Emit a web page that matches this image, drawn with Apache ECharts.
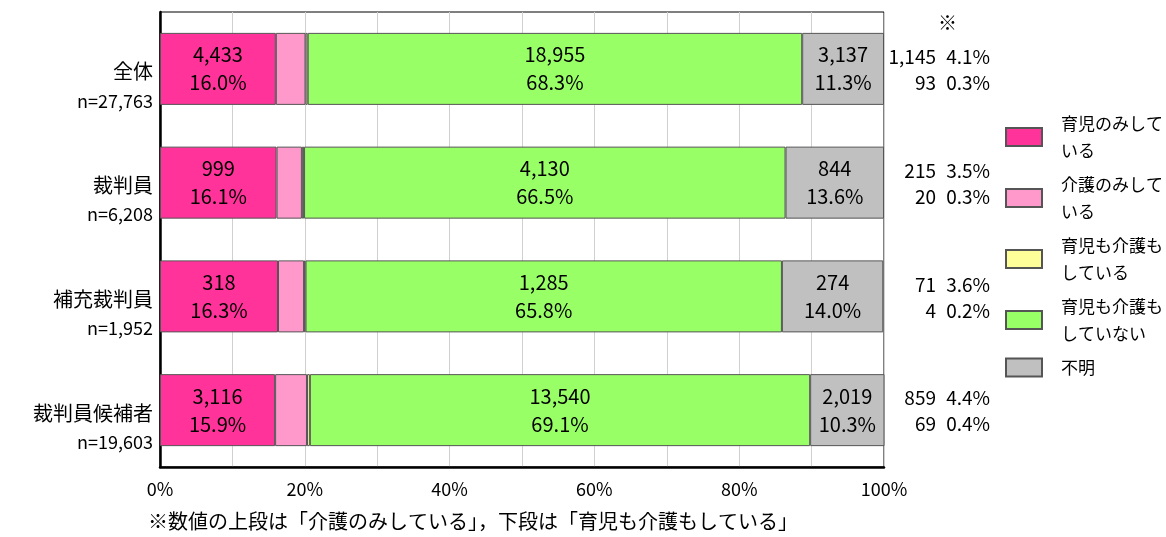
<!DOCTYPE html>
<html><head><meta charset="utf-8">
<script src="https://cdn.jsdelivr.net/npm/echarts@6/dist/echarts.min.js"></script>
<style>html,body{margin:0;padding:0;background:#fff}#c{width:1166px;height:537px}</style>
</head><body><div id="c"></div>
<script>
var categories = ['全体', '裁判員', '補充裁判員', '裁判員候補者'];
var totals = [27763, 6208, 1952, 19603];
var seriesNames = ['育児のみしている', '介護のみしている', '育児も介護もしている', '育児も介護もしていない', '不明'];
var legendLabels = ['育児のみして\nいる', '介護のみして\nいる', '育児も介護も\nしている', '育児も介護も\nしていない', '不明'];
var colors = ['#FF3399', '#FF99CC', '#FFFF99', '#99FF66', '#C0C0C0'];
var countIkujiOnly = [4433, 999, 318, 3116];
var countKaigoOnly = [1145, 215, 71, 859];
var countBoth = [93, 20, 4, 69];
var countNeither = [18955, 4130, 1285, 13540];
var countUnknown = [3137, 844, 274, 2019];
var pctIkujiOnly = [16.0, 16.1, 16.3, 15.9];
var pctKaigoOnly = [4.1, 3.5, 3.6, 4.4];
var pctBoth = [0.3, 0.3, 0.2, 0.4];
var pctNeither = [68.3, 66.5, 65.8, 69.1];
var pctUnknown = [11.3, 13.6, 14.0, 10.3];
var xTicks = [0, 20, 40, 60, 80, 100];
var footNote = '※数値の上段は「介護のみしている」，下段は「育児も介護もしている」';

var counts = [countIkujiOnly, countKaigoOnly, countBoth, countNeither, countUnknown];
var pcts = [pctIkujiOnly, pctKaigoOnly, pctBoth, pctNeither, pctUnknown];
var showLabel = [true, false, false, true, true];
var FONT = '"Noto Sans CJK JP", sans-serif';

function fmt(n) { return n.toLocaleString('en-US'); }

var series = seriesNames.map(function (name, s) {
  return {
    name: name, type: 'bar', stack: 'total', barWidth: 72,
    itemStyle: { color: colors[s], borderColor: '#555', borderWidth: 1 },
    label: {
      show: showLabel[s], position: 'inside', color: '#000',
      fontFamily: FONT, fontSize: 20, lineHeight: 28,
      formatter: function (p) {
        return fmt(counts[s][p.dataIndex]) + '\n' + pcts[s][p.dataIndex].toFixed(1) + '%';
      }
    },
    emphasis: { disabled: true },
    data: pcts[s]
  };
});

series.push({
  name: 'note', type: 'custom', clip: false, silent: true,
  encode: { x: 0, y: 1 },
  data: categories.map(function (c, i) { return [100, i]; }),
  renderItem: function (params, api) {
    var i = params.dataIndex;
    var pt = api.coord([100, i]);
    var st = function (txt, x, y) {
      return { type: 'text', style: { text: txt, x: x, y: y, align: 'right', verticalAlign: 'middle',
        fill: '#000', font: '19px ' + FONT } };
    };
    return { type: 'group', children: [
      st(fmt(countKaigoOnly[i]), pt[0] + 52, pt[1] - 12),
      st(pctKaigoOnly[i].toFixed(1) + '%', pt[0] + 106, pt[1] - 12),
      st(fmt(countBoth[i]), pt[0] + 52, pt[1] + 14),
      st(pctBoth[i].toFixed(1) + '%', pt[0] + 106, pt[1] + 14)
    ] };
  }
});

var chart = echarts.init(document.getElementById('c'));
chart.setOption({
  animation: false,
  backgroundColor: '#fff',
  textStyle: { fontFamily: FONT },
  grid: { left: 160, right: 282, top: 12, bottom: 70, show: true, borderColor: '#000', borderWidth: 1, backgroundColor: '#fff' },
  xAxis: {
    type: 'value', min: 0, max: 100, interval: 10,
    axisLine: { show: true, lineStyle: { color: '#000', width: 2.5 } },
    axisTick: { show: false },
    splitLine: { show: true, lineStyle: { color: '#d0d0d0', width: 1 } },
    axisLabel: {
      color: '#000', fontSize: 18, margin: 13, fontFamily: FONT,
      formatter: function (v) { return xTicks.indexOf(v) >= 0 ? v + '%' : ''; }
    }
  },
  yAxis: {
    type: 'category', data: categories, inverse: true,
    axisLine: { show: true, lineStyle: { color: '#000', width: 2.5 } },
    axisTick: { show: false },
    axisLabel: {
      margin: 7, align: 'right', padding: [34, 0, 0, 0],
      formatter: function (v, i) { return '{a|' + v + '}\n{b|n=' + fmt(totals[i]) + '}'; },
      rich: {
        a: { fontSize: 20, lineHeight: 30, color: '#000', fontFamily: FONT, align: 'right' },
        b: { fontSize: 18, lineHeight: 28, color: '#000', fontFamily: FONT, align: 'right' }
      }
    }
  },
  legend: {
    data: seriesNames, orient: 'vertical', left: 1000, top: 105,
    itemWidth: 36, itemHeight: 18, itemGap: 7, icon: 'rect',
    selectedMode: false,
    textStyle: { fontSize: 17, lineHeight: 27, color: '#000', fontFamily: FONT, padding: [0, 0, 0, 14] },
    formatter: function (name) { return legendLabels[seriesNames.indexOf(name)]; }
  },
  graphic: [
    { type: 'text', left: 938, top: 13, style: { text: '※', font: '19px ' + FONT, fill: '#000' } },
    { type: 'text', left: 148, top: 511, style: { text: footNote, font: '20px ' + FONT, fill: '#000' } }
  ],
  series: series
});
</script></body></html>
